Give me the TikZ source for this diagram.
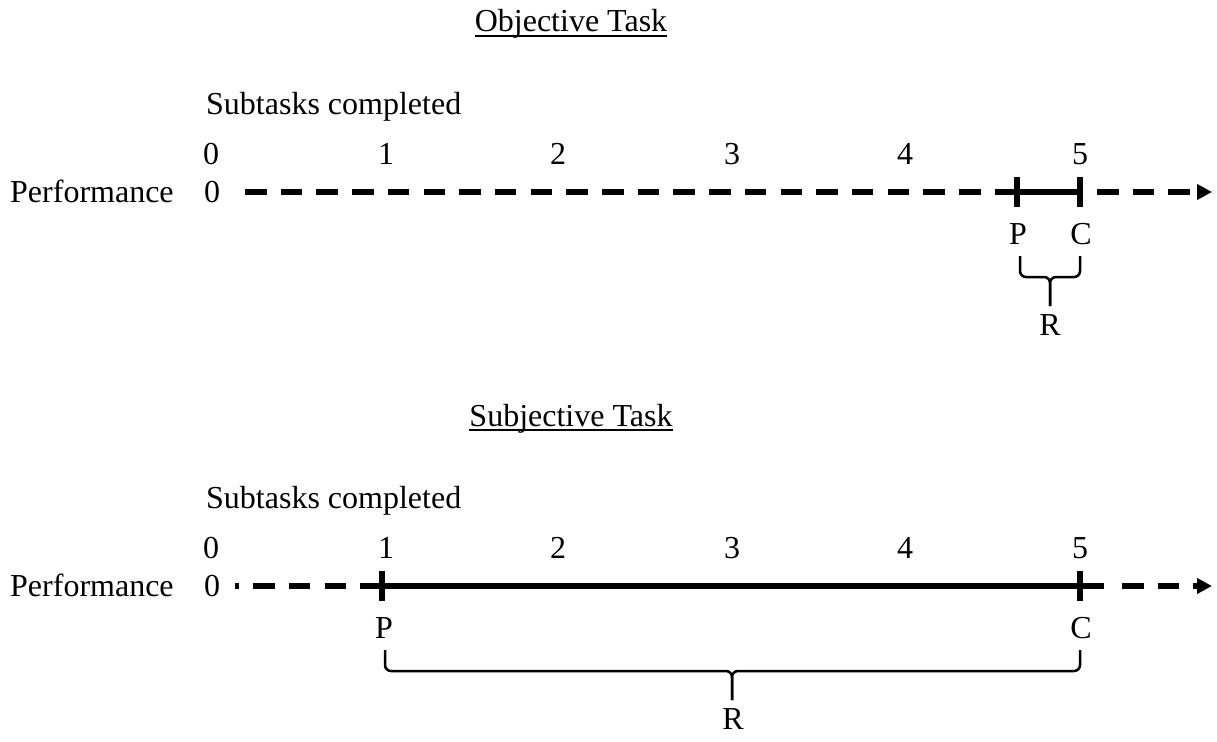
\documentclass[tikz,border=0pt]{standalone}
\usepackage{fontspec}
\setmainfont{Liberation Serif}
\usepackage{tikz}
\usetikzlibrary{arrows.meta}

\tikzset{
  lbl/.style={font=\fontsize{32}{38}\selectfont, inner sep=0pt},
  axisline/.style={line width=6pt, dash pattern=on 21.5pt off 14.2pt},
  solidline/.style={line width=6pt},
  tickmark/.style={line width=5.5pt},
  bracket/.style={line width=2.5pt, rounded corners=6pt},
  headline/.style={line width=1.8pt},
}

\begin{document}
\begin{tikzpicture}[x=1pt, y=-1pt]
    %% Background
    \useasboundingbox (0,0) rectangle (1217,741);

    %% Objective task
    \node[lbl, anchor=base] (objTitle) at (571,32) {Objective Task};
    \draw[headline] ([yshift=-4pt]objTitle.base west) -- ([yshift=-4pt]objTitle.base east);

    \node[lbl, anchor=base west] (objSub) at (206,114) {Subtasks completed};
    \node[lbl] (objN0) at (211,154) {0};
    \node[lbl] (objN1) at (386,154) {1};
    \node[lbl] (objN2) at (558,154) {2};
    \node[lbl] (objN3) at (732,154) {3};
    \node[lbl] (objN4) at (905,154) {4};
    \node[lbl] (objN5) at (1080,154) {5};

    \node[lbl, anchor=base west] (objPerf) at (10,202) {Performance};
    \node[lbl] (objZero) at (212,192) {0};

    \coordinate (objStart) at (245,192);
    \coordinate (objP) at (1017,192);
    \coordinate (objC) at (1080,192);
    \coordinate (objAfter) at (1097,192);
    \coordinate (objEnd) at (1212,192);

    \draw[axisline] (objStart) -- (objP);
    \draw[solidline] (objP) -- (objC);
    \draw[axisline, -{Triangle[length=15pt,width=15pt]}] (objAfter) -- (objEnd);
    \draw[tickmark] ([yshift=15pt]objP) -- ([yshift=-15pt]objP);
    \draw[tickmark] ([yshift=15pt]objC) -- ([yshift=-15pt]objC);

    \node[lbl] (objPlab) at (1018,234) {P};
    \node[lbl] (objClab) at (1081,234) {C};

    \coordinate (objBl) at (1020,256);
    \coordinate (objBr) at (1080,256);
    \coordinate (objBm) at (1050,277);
    \coordinate (objBt) at (1050,306);
    \draw[bracket] (objBl) |- (objBm) -- (objBt);
    \draw[bracket] (objBr) |- (objBm) -- (objBt);
    \node[lbl] (objR) at (1050,325) {R};

    %% Subjective task
    \node[lbl, anchor=base] (subTitle) at (571,426) {Subjective Task};
    \draw[headline] ([yshift=-4pt]subTitle.base west) -- ([yshift=-4pt]subTitle.base east);

    \node[lbl, anchor=base west] (subSub) at (206,508) {Subtasks completed};
    \node[lbl] (subN0) at (211,548) {0};
    \node[lbl] (subN1) at (386,548) {1};
    \node[lbl] (subN2) at (558,548) {2};
    \node[lbl] (subN3) at (732,548) {3};
    \node[lbl] (subN4) at (905,548) {4};
    \node[lbl] (subN5) at (1080,548) {5};

    \node[lbl, anchor=base west] (subPerf) at (10,596) {Performance};
    \node[lbl] (subZero) at (212,586) {0};

    \coordinate (subStart) at (235,586);
    \coordinate (subP) at (382,586);
    \coordinate (subC) at (1080,586);
    \coordinate (subSolidEnd) at (1104,586);
    \coordinate (subAfter) at (1122,586);
    \coordinate (subEnd) at (1212,586);

    \draw[axisline, dash phase=17.5pt] (subStart) -- (subP);
    \draw[solidline] (subP) -- (subSolidEnd);
    \draw[axisline, -{Triangle[length=15pt,width=15pt]}] (subAfter) -- (subEnd);
    \draw[tickmark] ([yshift=15pt]subP) -- ([yshift=-15pt]subP);
    \draw[tickmark] ([yshift=15pt]subC) -- ([yshift=-15pt]subC);

    \node[lbl] (subPlab) at (384,628) {P};
    \node[lbl] (subClab) at (1081,628) {C};

    \coordinate (subBl) at (385,650);
    \coordinate (subBr) at (1080,650);
    \coordinate (subBm) at (732,671);
    \coordinate (subBt) at (732,700);
    \draw[bracket] (subBl) |- (subBm) -- (subBt);
    \draw[bracket] (subBr) |- (subBm) -- (subBt);
    \node[lbl] (subR) at (733,719) {R};
\end{tikzpicture}
\end{document}
